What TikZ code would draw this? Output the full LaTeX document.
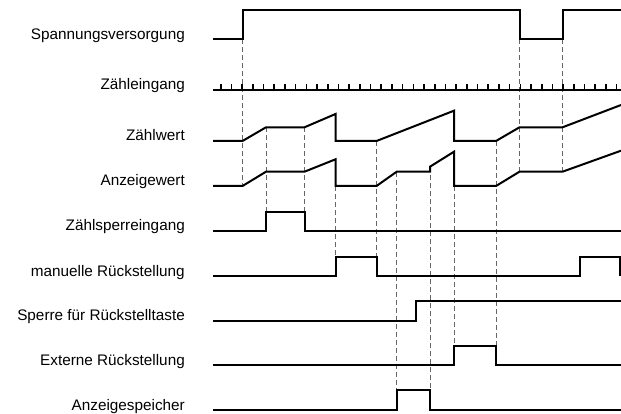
\documentclass[tikz,border=0pt]{standalone}
\usepackage{fontspec}
\setmainfont{Liberation Sans}
\begin{document}
\begin{tikzpicture}[x=1pt,y=-1pt,
  sig/.style={line width=2pt,line join=miter,line cap=butt},
  tick/.style={line width=1.6pt},
  guide/.style={line width=0.9pt,draw=black!60,dash pattern=on 5pt off 3pt},
  lbl/.style={anchor=base east,inner sep=0pt,font=\fontsize{15.3}{18}\selectfont}]
\useasboundingbox (0,0) rectangle (621,414);
% labels
\node[lbl] (l1) at (185,39.3) {Spannungsversorgung};
\node[lbl] (l2) at (185,90) {Zähleingang};
\node[lbl] (l3) at (185,141) {Zählwert};
\node[lbl] (l4) at (185,186) {Anzeigewert};
\node[lbl] (l5) at (185,231) {Zählsperreingang};
\node[lbl] (l6) at (185,276) {manuelle Rückstellung};
\node[lbl] (l7) at (185,320.7) {Sperre für Rückstelltaste};
\node[lbl] (l8) at (185,365.3) {Externe Rückstellung};
\node[lbl] (l9) at (185,410) {Anzeigespeicher};
% guide lines
\draw[guide] (242.5,39.3) -- (242.5,186);
\draw[guide] (519.5,39.3) -- (519.5,171.7);
\draw[guide] (562.5,39.3) -- (562.5,171.7);
\draw[guide] (266,127.3) -- (266,211.7);
\draw[guide] (304.5,127.3) -- (304.5,211.7);
\draw[guide] (335.5,186) -- (335.5,257.3);
\draw[guide] (376.5,141) -- (376.5,257.3);
\draw[guide] (396.7,171.7) -- (396.7,390);
\draw[guide] (430,166.7) -- (430,390);
\draw[guide] (454,186) -- (454,346);
\draw[guide] (496,141) -- (496,346);
% signals
\draw[sig] (213,39.3) -- (242.5,39.3) -- (242.5,10) -- (519.5,10) -- (519.5,39.3) -- (562.5,39.3) -- (562.5,10) -- (621,10);
\draw[sig] (213,90) -- (621,90);
\foreach \k in {0,...,37} \draw[tick] ({220.7+\k*10.7},90) -- ({220.7+\k*10.7},84.5);
\draw[sig] (213,141) -- (242.5,141) -- (266,127.3) -- (304.5,127.3) -- (335.5,114) -- (335.5,141) -- (376.5,141) -- (454,110.7) -- (454,141) -- (496,141) -- (519.5,127.3) -- (562.5,127.3) -- (621,105);
\draw[sig] (213,186) -- (242.5,186) -- (266,171.7) -- (304.5,171.7) -- (335.5,159.3) -- (335.5,186) -- (376.5,186) -- (396.7,171.7) -- (430,171.7) -- (430,166.7) -- (454,151.7) -- (454,186) -- (496,186) -- (519.5,171.7) -- (562.5,171.7) -- (621,150.7);
\draw[sig] (213,231) -- (266,231) -- (266,211.7) -- (304.5,211.7) -- (304.5,231) -- (621,231);
\draw[sig] (213,276) -- (335.5,276) -- (335.5,257.3) -- (376.5,257.3) -- (376.5,276) -- (580,276) -- (580,257.3) -- (620,257.3) -- (620,276);
\draw[sig] (213,320.7) -- (415.7,320.7) -- (415.7,301.3) -- (621,301.3);
\draw[sig] (213,365.3) -- (454,365.3) -- (454,346) -- (496,346) -- (496,365.3) -- (621,365.3);
\draw[sig] (213,410) -- (396.7,410) -- (396.7,390) -- (430,390) -- (430,410) -- (621,410);
\end{tikzpicture}
\end{document}
